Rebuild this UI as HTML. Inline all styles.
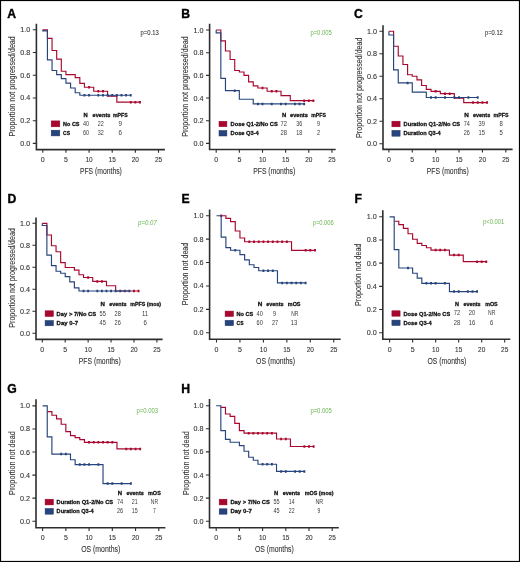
<!DOCTYPE html>
<html><head><meta charset="utf-8"><style>
html,body{margin:0;padding:0;background:#fff;}
svg{display:block;will-change:transform;opacity:0.999;}
text{font-family:"Liberation Sans", sans-serif;}
</style></head><body>
<svg width="520" height="562" viewBox="0 0 520 562">
<rect x="0" y="0" width="520" height="562" fill="#fff"/>
<text x="7.2" y="17.5" font-size="12.2" font-weight="bold" fill="#000" stroke="#000" stroke-width="0.35">A</text>
<path d="M36.40,23.80V149.60H164.90" fill="none" stroke="#2e2e2e" stroke-width="1.6"/>
<path d="M32.80,143.40H36.40M32.80,120.68H36.40M32.80,97.96H36.40M32.80,75.24H36.40M32.80,52.52H36.40M32.80,29.80H36.40M42.80,149.60V152.80M65.94,149.60V152.80M89.08,149.60V152.80M112.22,149.60V152.80M135.36,149.60V152.80M158.50,149.60V152.80" fill="none" stroke="#2e2e2e" stroke-width="1.1"/>
<text x="20.30" y="145.90" font-size="7" font-weight="normal" fill="#333333" stroke="#333333" stroke-width="0.1" textLength="10.00" lengthAdjust="spacingAndGlyphs">0.0</text>
<text x="20.30" y="123.18" font-size="7" font-weight="normal" fill="#333333" stroke="#333333" stroke-width="0.1" textLength="10.00" lengthAdjust="spacingAndGlyphs">0.2</text>
<text x="20.30" y="100.46" font-size="7" font-weight="normal" fill="#333333" stroke="#333333" stroke-width="0.1" textLength="10.00" lengthAdjust="spacingAndGlyphs">0.4</text>
<text x="20.30" y="77.74" font-size="7" font-weight="normal" fill="#333333" stroke="#333333" stroke-width="0.1" textLength="10.00" lengthAdjust="spacingAndGlyphs">0.6</text>
<text x="20.30" y="55.02" font-size="7" font-weight="normal" fill="#333333" stroke="#333333" stroke-width="0.1" textLength="10.00" lengthAdjust="spacingAndGlyphs">0.8</text>
<text x="20.30" y="32.30" font-size="7" font-weight="normal" fill="#333333" stroke="#333333" stroke-width="0.1" textLength="10.00" lengthAdjust="spacingAndGlyphs">1.0</text>
<text x="40.85" y="162.20" font-size="7.9" font-weight="normal" fill="#333333" stroke="#333333" stroke-width="0.1" textLength="3.90" lengthAdjust="spacingAndGlyphs">0</text>
<text x="63.99" y="162.20" font-size="7.9" font-weight="normal" fill="#333333" stroke="#333333" stroke-width="0.1" textLength="3.90" lengthAdjust="spacingAndGlyphs">5</text>
<text x="85.48" y="162.20" font-size="7.9" font-weight="normal" fill="#333333" stroke="#333333" stroke-width="0.1" textLength="7.20" lengthAdjust="spacingAndGlyphs">10</text>
<text x="108.62" y="162.20" font-size="7.9" font-weight="normal" fill="#333333" stroke="#333333" stroke-width="0.1" textLength="7.20" lengthAdjust="spacingAndGlyphs">15</text>
<text x="131.76" y="162.20" font-size="7.9" font-weight="normal" fill="#333333" stroke="#333333" stroke-width="0.1" textLength="7.20" lengthAdjust="spacingAndGlyphs">20</text>
<text x="154.90" y="162.20" font-size="7.9" font-weight="normal" fill="#333333" stroke="#333333" stroke-width="0.1" textLength="7.20" lengthAdjust="spacingAndGlyphs">25</text>
<text x="79.90" y="174.20" font-size="9.4" font-weight="normal" fill="#333333" stroke="#333333" stroke-width="0.1" textLength="42.00" lengthAdjust="spacingAndGlyphs">PFS (months)</text>
<g transform="translate(15.00,86.40) rotate(-90)"><text x="-50.20" y="0.00" font-size="8.8" font-weight="normal" fill="#333333" stroke="#333333" stroke-width="0.1" textLength="100.40" lengthAdjust="spacingAndGlyphs">Proportion not progressed/dead</text></g>
<text x="140.60" y="35.10" font-size="6.4" font-weight="normal" fill="#333333" stroke="#333333" stroke-width="0.08" textLength="18.10" lengthAdjust="spacingAndGlyphs">p=0.13</text>
<path d="M42.80,29.80H47.43V38.32H52.06V50.48H56.68V59.11H61.31V71.26H65.94V74.56H75.20V77.63H79.82V83.42H84.45V87.28H93.71V91.26H107.59V96.14H116.85V102.16H139.99" fill="none" stroke="#a8082f" stroke-width="1.15" stroke-linejoin="miter" stroke-linecap="butt"/>
<path d="M89.08,86.03V88.53M98.34,90.01V92.51M102.96,90.01V92.51M130.73,100.91V103.41M135.36,100.91V103.41M139.99,100.91V103.41" fill="none" stroke="#a8082f" stroke-width="1.9"/>
<path d="M42.80,29.80H42.80V30.94H47.43V59.90H52.06V70.47H56.68V74.56H61.31V78.65H65.94V83.08H70.57V87.96H75.20V92.73H79.82V95.23H130.73" fill="none" stroke="#27457c" stroke-width="1.15" stroke-linejoin="miter" stroke-linecap="butt"/>
<path d="M84.45,93.98V96.48M89.08,93.98V96.48M98.34,93.98V96.48M102.96,93.98V96.48M107.59,93.98V96.48M112.22,93.98V96.48M116.85,93.98V96.48M121.48,93.98V96.48M126.10,93.98V96.48M130.73,93.98V96.48" fill="none" stroke="#27457c" stroke-width="1.9"/>
<rect x="51.2" y="120.9" width="8.60" height="5.90" fill="#a8082f" stroke="#920022" stroke-width="0.5"/>
<rect x="51.2" y="130.2" width="8.60" height="5.70" fill="#27457c" stroke="#1d3669" stroke-width="0.5"/>
<text x="63.10" y="125.90" font-size="6.2" font-weight="bold" fill="#111" stroke="#111" stroke-width="0.28" textLength="16.40" lengthAdjust="spacingAndGlyphs">No CS</text>
<text x="63.10" y="134.90" font-size="6.2" font-weight="bold" fill="#111" stroke="#111" stroke-width="0.28" textLength="6.90" lengthAdjust="spacingAndGlyphs">CS</text>
<text x="83.60" y="116.60" font-size="6.0" font-weight="bold" fill="#111" stroke="#111" stroke-width="0.28" textLength="4.20" lengthAdjust="spacingAndGlyphs">N</text>
<text x="92.60" y="116.60" font-size="6.0" font-weight="bold" fill="#111" stroke="#111" stroke-width="0.28" textLength="17.80" lengthAdjust="spacingAndGlyphs">events</text>
<text x="113.00" y="116.60" font-size="6.0" font-weight="bold" fill="#111" stroke="#111" stroke-width="0.28" textLength="14.70" lengthAdjust="spacingAndGlyphs">mPFS</text>
<text x="82.90" y="125.90" font-size="6.6" font-weight="normal" fill="#3a3a3a" textLength="6.10" lengthAdjust="spacingAndGlyphs">40</text>
<text x="97.80" y="125.90" font-size="6.6" font-weight="normal" fill="#3a3a3a" textLength="6.00" lengthAdjust="spacingAndGlyphs">22</text>
<text x="118.50" y="125.90" font-size="6.6" font-weight="normal" fill="#3a3a3a" textLength="3.50" lengthAdjust="spacingAndGlyphs">9</text>
<text x="82.90" y="134.90" font-size="6.6" font-weight="normal" fill="#3a3a3a" textLength="6.10" lengthAdjust="spacingAndGlyphs">60</text>
<text x="97.80" y="134.90" font-size="6.6" font-weight="normal" fill="#3a3a3a" textLength="6.00" lengthAdjust="spacingAndGlyphs">32</text>
<text x="118.50" y="134.90" font-size="6.6" font-weight="normal" fill="#3a3a3a" textLength="3.50" lengthAdjust="spacingAndGlyphs">6</text>
<text x="181.2" y="17.7" font-size="12.2" font-weight="bold" fill="#000" stroke="#000" stroke-width="0.35">B</text>
<path d="M209.60,23.80V149.50H335.70" fill="none" stroke="#2e2e2e" stroke-width="1.6"/>
<path d="M206.00,143.40H209.60M206.00,120.72H209.60M206.00,98.04H209.60M206.00,75.36H209.60M206.00,52.68H209.60M206.00,30.00H209.60M216.20,149.50V152.70M239.35,149.50V152.70M262.50,149.50V152.70M285.65,149.50V152.70M308.80,149.50V152.70M331.95,149.50V152.70" fill="none" stroke="#2e2e2e" stroke-width="1.1"/>
<text x="193.50" y="145.90" font-size="7" font-weight="normal" fill="#333333" stroke="#333333" stroke-width="0.1" textLength="10.00" lengthAdjust="spacingAndGlyphs">0.0</text>
<text x="193.50" y="123.22" font-size="7" font-weight="normal" fill="#333333" stroke="#333333" stroke-width="0.1" textLength="10.00" lengthAdjust="spacingAndGlyphs">0.2</text>
<text x="193.50" y="100.54" font-size="7" font-weight="normal" fill="#333333" stroke="#333333" stroke-width="0.1" textLength="10.00" lengthAdjust="spacingAndGlyphs">0.4</text>
<text x="193.50" y="77.86" font-size="7" font-weight="normal" fill="#333333" stroke="#333333" stroke-width="0.1" textLength="10.00" lengthAdjust="spacingAndGlyphs">0.6</text>
<text x="193.50" y="55.18" font-size="7" font-weight="normal" fill="#333333" stroke="#333333" stroke-width="0.1" textLength="10.00" lengthAdjust="spacingAndGlyphs">0.8</text>
<text x="193.50" y="32.50" font-size="7" font-weight="normal" fill="#333333" stroke="#333333" stroke-width="0.1" textLength="10.00" lengthAdjust="spacingAndGlyphs">1.0</text>
<text x="214.25" y="162.10" font-size="7.9" font-weight="normal" fill="#333333" stroke="#333333" stroke-width="0.1" textLength="3.90" lengthAdjust="spacingAndGlyphs">0</text>
<text x="237.40" y="162.10" font-size="7.9" font-weight="normal" fill="#333333" stroke="#333333" stroke-width="0.1" textLength="3.90" lengthAdjust="spacingAndGlyphs">5</text>
<text x="258.90" y="162.10" font-size="7.9" font-weight="normal" fill="#333333" stroke="#333333" stroke-width="0.1" textLength="7.20" lengthAdjust="spacingAndGlyphs">10</text>
<text x="282.05" y="162.10" font-size="7.9" font-weight="normal" fill="#333333" stroke="#333333" stroke-width="0.1" textLength="7.20" lengthAdjust="spacingAndGlyphs">15</text>
<text x="305.20" y="162.10" font-size="7.9" font-weight="normal" fill="#333333" stroke="#333333" stroke-width="0.1" textLength="7.20" lengthAdjust="spacingAndGlyphs">20</text>
<text x="328.35" y="162.10" font-size="7.9" font-weight="normal" fill="#333333" stroke="#333333" stroke-width="0.1" textLength="7.20" lengthAdjust="spacingAndGlyphs">25</text>
<text x="253.20" y="174.10" font-size="9.4" font-weight="normal" fill="#333333" stroke="#333333" stroke-width="0.1" textLength="42.10" lengthAdjust="spacingAndGlyphs">PFS (months)</text>
<g transform="translate(188.20,86.60) rotate(-90)"><text x="-50.20" y="0.00" font-size="8.8" font-weight="normal" fill="#333333" stroke="#333333" stroke-width="0.1" textLength="100.40" lengthAdjust="spacingAndGlyphs">Proportion not progressed/dead</text></g>
<text x="310.40" y="34.70" font-size="6.4" font-weight="normal" fill="#68b54e" textLength="21.50" lengthAdjust="spacingAndGlyphs">p=0.005</text>
<path d="M216.20,30.00H220.83V40.89H225.46V50.98H230.09V59.48H234.72V70.48H239.35V71.96H243.98V75.36H248.61V81.94H253.24V85.91H257.87V87.95H267.13V91.24H281.02V95.55H290.28V100.65H313.43" fill="none" stroke="#a8082f" stroke-width="1.15" stroke-linejoin="miter" stroke-linecap="butt"/>
<path d="M262.50,86.70V89.20M271.76,89.99V92.49M276.39,89.99V92.49M304.17,99.40V101.90M308.80,99.40V101.90M313.43,99.40V101.90" fill="none" stroke="#a8082f" stroke-width="1.9"/>
<path d="M216.20,30.00H216.20V32.84H220.83V78.31H225.46V90.67H239.35V99.29H253.24V103.94H304.17" fill="none" stroke="#27457c" stroke-width="1.15" stroke-linejoin="miter" stroke-linecap="butt"/>
<path d="M234.72,89.42V91.92M257.87,102.69V105.19M262.50,102.69V105.19M271.76,102.69V105.19M281.02,102.69V105.19M285.65,102.69V105.19M294.91,102.69V105.19M299.54,102.69V105.19M304.17,102.69V105.19" fill="none" stroke="#27457c" stroke-width="1.9"/>
<rect x="219.0" y="121.3" width="7.90" height="5.40" fill="#a8082f" stroke="#920022" stroke-width="0.5"/>
<rect x="219.0" y="130.5" width="7.90" height="5.50" fill="#27457c" stroke="#1d3669" stroke-width="0.5"/>
<text x="230.60" y="126.10" font-size="6.2" font-weight="bold" fill="#111" stroke="#111" stroke-width="0.28" textLength="47.20" lengthAdjust="spacingAndGlyphs">Dose Q1-2/No CS</text>
<text x="230.60" y="135.10" font-size="6.2" font-weight="bold" fill="#111" stroke="#111" stroke-width="0.28" textLength="28.20" lengthAdjust="spacingAndGlyphs">Dose Q3-4</text>
<text x="281.90" y="116.50" font-size="6.0" font-weight="bold" fill="#111" stroke="#111" stroke-width="0.28" textLength="4.30" lengthAdjust="spacingAndGlyphs">N</text>
<text x="290.00" y="116.50" font-size="6.0" font-weight="bold" fill="#111" stroke="#111" stroke-width="0.28" textLength="17.90" lengthAdjust="spacingAndGlyphs">events</text>
<text x="311.30" y="116.50" font-size="6.0" font-weight="bold" fill="#111" stroke="#111" stroke-width="0.28" textLength="14.60" lengthAdjust="spacingAndGlyphs">mPFS</text>
<text x="280.60" y="125.90" font-size="6.6" font-weight="normal" fill="#3a3a3a" textLength="6.50" lengthAdjust="spacingAndGlyphs">72</text>
<text x="296.30" y="125.90" font-size="6.6" font-weight="normal" fill="#3a3a3a" textLength="6.00" lengthAdjust="spacingAndGlyphs">36</text>
<text x="316.90" y="125.90" font-size="6.6" font-weight="normal" fill="#3a3a3a" textLength="3.10" lengthAdjust="spacingAndGlyphs">9</text>
<text x="280.60" y="135.10" font-size="6.6" font-weight="normal" fill="#3a3a3a" textLength="6.50" lengthAdjust="spacingAndGlyphs">28</text>
<text x="296.30" y="135.10" font-size="6.6" font-weight="normal" fill="#3a3a3a" textLength="6.00" lengthAdjust="spacingAndGlyphs">18</text>
<text x="316.90" y="135.10" font-size="6.6" font-weight="normal" fill="#3a3a3a" textLength="3.10" lengthAdjust="spacingAndGlyphs">2</text>
<text x="354.0" y="17.7" font-size="12.2" font-weight="bold" fill="#000" stroke="#000" stroke-width="0.35">C</text>
<path d="M383.00,25.20V149.40H512.60" fill="none" stroke="#2e2e2e" stroke-width="1.6"/>
<path d="M379.40,143.80H383.00M379.40,121.28H383.00M379.40,98.76H383.00M379.40,76.24H383.00M379.40,53.72H383.00M379.40,31.20H383.00M388.90,149.40V152.60M412.28,149.40V152.60M435.66,149.40V152.60M459.04,149.40V152.60M482.42,149.40V152.60M505.80,149.40V152.60" fill="none" stroke="#2e2e2e" stroke-width="1.1"/>
<text x="366.90" y="146.30" font-size="7" font-weight="normal" fill="#333333" stroke="#333333" stroke-width="0.1" textLength="10.00" lengthAdjust="spacingAndGlyphs">0.0</text>
<text x="366.90" y="123.78" font-size="7" font-weight="normal" fill="#333333" stroke="#333333" stroke-width="0.1" textLength="10.00" lengthAdjust="spacingAndGlyphs">0.2</text>
<text x="366.90" y="101.26" font-size="7" font-weight="normal" fill="#333333" stroke="#333333" stroke-width="0.1" textLength="10.00" lengthAdjust="spacingAndGlyphs">0.4</text>
<text x="366.90" y="78.74" font-size="7" font-weight="normal" fill="#333333" stroke="#333333" stroke-width="0.1" textLength="10.00" lengthAdjust="spacingAndGlyphs">0.6</text>
<text x="366.90" y="56.22" font-size="7" font-weight="normal" fill="#333333" stroke="#333333" stroke-width="0.1" textLength="10.00" lengthAdjust="spacingAndGlyphs">0.8</text>
<text x="366.90" y="33.70" font-size="7" font-weight="normal" fill="#333333" stroke="#333333" stroke-width="0.1" textLength="10.00" lengthAdjust="spacingAndGlyphs">1.0</text>
<text x="386.95" y="162.00" font-size="7.9" font-weight="normal" fill="#333333" stroke="#333333" stroke-width="0.1" textLength="3.90" lengthAdjust="spacingAndGlyphs">0</text>
<text x="410.33" y="162.00" font-size="7.9" font-weight="normal" fill="#333333" stroke="#333333" stroke-width="0.1" textLength="3.90" lengthAdjust="spacingAndGlyphs">5</text>
<text x="432.06" y="162.00" font-size="7.9" font-weight="normal" fill="#333333" stroke="#333333" stroke-width="0.1" textLength="7.20" lengthAdjust="spacingAndGlyphs">10</text>
<text x="455.44" y="162.00" font-size="7.9" font-weight="normal" fill="#333333" stroke="#333333" stroke-width="0.1" textLength="7.20" lengthAdjust="spacingAndGlyphs">15</text>
<text x="478.82" y="162.00" font-size="7.9" font-weight="normal" fill="#333333" stroke="#333333" stroke-width="0.1" textLength="7.20" lengthAdjust="spacingAndGlyphs">20</text>
<text x="502.20" y="162.00" font-size="7.9" font-weight="normal" fill="#333333" stroke="#333333" stroke-width="0.1" textLength="7.20" lengthAdjust="spacingAndGlyphs">25</text>
<text x="426.80" y="174.00" font-size="9.4" font-weight="normal" fill="#333333" stroke="#333333" stroke-width="0.1" textLength="42.00" lengthAdjust="spacingAndGlyphs">PFS (months)</text>
<g transform="translate(362.00,87.70) rotate(-90)"><text x="-50.20" y="0.00" font-size="8.8" font-weight="normal" fill="#333333" stroke="#333333" stroke-width="0.1" textLength="100.40" lengthAdjust="spacingAndGlyphs">Proportion not progressed/dead</text></g>
<text x="485.00" y="34.70" font-size="6.4" font-weight="normal" fill="#333333" stroke="#333333" stroke-width="0.08" textLength="17.80" lengthAdjust="spacingAndGlyphs">p=0.12</text>
<path d="M388.90,31.20H393.58V46.29H398.25V55.97H402.93V64.53H407.60V74.78H412.28V76.24H416.96V79.84H421.63V85.47H426.31V89.30H430.98V91.33H440.34V93.69H454.36V98.20H463.72V102.59H487.10" fill="none" stroke="#a8082f" stroke-width="1.15" stroke-linejoin="miter" stroke-linecap="butt"/>
<path d="M435.66,90.08V92.58M445.01,92.44V94.94M449.69,92.44V94.94M473.07,101.34V103.84M477.74,101.34V103.84M482.42,101.34V103.84M487.10,101.34V103.84" fill="none" stroke="#a8082f" stroke-width="1.9"/>
<path d="M388.90,31.20H388.90V35.03H393.58V69.82H398.25V82.88H412.28V92.12H426.31V97.52H477.74" fill="none" stroke="#27457c" stroke-width="1.15" stroke-linejoin="miter" stroke-linecap="butt"/>
<path d="M407.60,81.63V84.13M430.98,96.27V98.77M435.66,96.27V98.77M445.01,96.27V98.77M454.36,96.27V98.77M459.04,96.27V98.77M468.39,96.27V98.77M477.74,96.27V98.77" fill="none" stroke="#27457c" stroke-width="1.9"/>
<rect x="391.9" y="121.2" width="8.20" height="5.60" fill="#a8082f" stroke="#920022" stroke-width="0.5"/>
<rect x="391.9" y="130.4" width="8.20" height="5.80" fill="#27457c" stroke="#1d3669" stroke-width="0.5"/>
<text x="403.50" y="126.10" font-size="6.2" font-weight="bold" fill="#111" stroke="#111" stroke-width="0.28" textLength="56.60" lengthAdjust="spacingAndGlyphs">Duration Q1-2/No CS</text>
<text x="403.50" y="135.10" font-size="6.2" font-weight="bold" fill="#111" stroke="#111" stroke-width="0.28" textLength="37.20" lengthAdjust="spacingAndGlyphs">Duration Q3-4</text>
<text x="464.20" y="116.50" font-size="6.0" font-weight="bold" fill="#111" stroke="#111" stroke-width="0.28" textLength="4.60" lengthAdjust="spacingAndGlyphs">N</text>
<text x="472.90" y="116.50" font-size="6.0" font-weight="bold" fill="#111" stroke="#111" stroke-width="0.28" textLength="17.30" lengthAdjust="spacingAndGlyphs">events</text>
<text x="493.60" y="116.50" font-size="6.0" font-weight="bold" fill="#111" stroke="#111" stroke-width="0.28" textLength="15.00" lengthAdjust="spacingAndGlyphs">mPFS</text>
<text x="463.70" y="125.80" font-size="6.6" font-weight="normal" fill="#3a3a3a" textLength="6.10" lengthAdjust="spacingAndGlyphs">74</text>
<text x="478.60" y="125.80" font-size="6.6" font-weight="normal" fill="#3a3a3a" textLength="6.40" lengthAdjust="spacingAndGlyphs">39</text>
<text x="499.60" y="125.80" font-size="6.6" font-weight="normal" fill="#3a3a3a" textLength="3.30" lengthAdjust="spacingAndGlyphs">8</text>
<text x="463.70" y="134.80" font-size="6.6" font-weight="normal" fill="#3a3a3a" textLength="6.10" lengthAdjust="spacingAndGlyphs">26</text>
<text x="478.60" y="134.80" font-size="6.6" font-weight="normal" fill="#3a3a3a" textLength="6.40" lengthAdjust="spacingAndGlyphs">15</text>
<text x="499.60" y="134.80" font-size="6.6" font-weight="normal" fill="#3a3a3a" textLength="3.30" lengthAdjust="spacingAndGlyphs">5</text>
<text x="7.6" y="202.9" font-size="12.2" font-weight="bold" fill="#000" stroke="#000" stroke-width="0.35">D</text>
<path d="M36.00,217.50V339.40H162.60" fill="none" stroke="#2e2e2e" stroke-width="1.6"/>
<path d="M32.40,333.30H36.00M32.40,311.30H36.00M32.40,289.30H36.00M32.40,267.30H36.00M32.40,245.30H36.00M32.40,223.30H36.00M42.30,339.40V342.60M65.22,339.40V342.60M88.14,339.40V342.60M111.06,339.40V342.60M133.98,339.40V342.60M156.90,339.40V342.60" fill="none" stroke="#2e2e2e" stroke-width="1.1"/>
<text x="19.90" y="335.80" font-size="7" font-weight="normal" fill="#333333" stroke="#333333" stroke-width="0.1" textLength="10.00" lengthAdjust="spacingAndGlyphs">0.0</text>
<text x="19.90" y="313.80" font-size="7" font-weight="normal" fill="#333333" stroke="#333333" stroke-width="0.1" textLength="10.00" lengthAdjust="spacingAndGlyphs">0.2</text>
<text x="19.90" y="291.80" font-size="7" font-weight="normal" fill="#333333" stroke="#333333" stroke-width="0.1" textLength="10.00" lengthAdjust="spacingAndGlyphs">0.4</text>
<text x="19.90" y="269.80" font-size="7" font-weight="normal" fill="#333333" stroke="#333333" stroke-width="0.1" textLength="10.00" lengthAdjust="spacingAndGlyphs">0.6</text>
<text x="19.90" y="247.80" font-size="7" font-weight="normal" fill="#333333" stroke="#333333" stroke-width="0.1" textLength="10.00" lengthAdjust="spacingAndGlyphs">0.8</text>
<text x="19.90" y="225.80" font-size="7" font-weight="normal" fill="#333333" stroke="#333333" stroke-width="0.1" textLength="10.00" lengthAdjust="spacingAndGlyphs">1.0</text>
<text x="40.35" y="352.00" font-size="7.9" font-weight="normal" fill="#333333" stroke="#333333" stroke-width="0.1" textLength="3.90" lengthAdjust="spacingAndGlyphs">0</text>
<text x="63.27" y="352.00" font-size="7.9" font-weight="normal" fill="#333333" stroke="#333333" stroke-width="0.1" textLength="3.90" lengthAdjust="spacingAndGlyphs">5</text>
<text x="84.54" y="352.00" font-size="7.9" font-weight="normal" fill="#333333" stroke="#333333" stroke-width="0.1" textLength="7.20" lengthAdjust="spacingAndGlyphs">10</text>
<text x="107.46" y="352.00" font-size="7.9" font-weight="normal" fill="#333333" stroke="#333333" stroke-width="0.1" textLength="7.20" lengthAdjust="spacingAndGlyphs">15</text>
<text x="130.38" y="352.00" font-size="7.9" font-weight="normal" fill="#333333" stroke="#333333" stroke-width="0.1" textLength="7.20" lengthAdjust="spacingAndGlyphs">20</text>
<text x="153.30" y="352.00" font-size="7.9" font-weight="normal" fill="#333333" stroke="#333333" stroke-width="0.1" textLength="7.20" lengthAdjust="spacingAndGlyphs">25</text>
<text x="78.80" y="364.00" font-size="9.4" font-weight="normal" fill="#333333" stroke="#333333" stroke-width="0.1" textLength="42.00" lengthAdjust="spacingAndGlyphs">PFS (months)</text>
<g transform="translate(15.30,277.90) rotate(-90)"><text x="-49.75" y="0.00" font-size="8.8" font-weight="normal" fill="#333333" stroke="#333333" stroke-width="0.1" textLength="99.50" lengthAdjust="spacingAndGlyphs">Proportion not progressed/dead</text></g>
<text x="138.10" y="224.60" font-size="6.4" font-weight="normal" fill="#68b54e" font-style="italic" textLength="18.80" lengthAdjust="spacingAndGlyphs">p=0.07</text>
<path d="M42.30,223.30H46.88V234.96H51.47V245.74H56.05V251.79H60.64V262.68H65.22V267.52H74.39V270.16H78.97V274.78H83.56V277.53H92.72V281.38H106.48V285.78H115.64V290.95H138.56" fill="none" stroke="#a8082f" stroke-width="1.15" stroke-linejoin="miter" stroke-linecap="butt"/>
<path d="M88.14,276.28V278.78M97.31,280.13V282.63M101.89,280.13V282.63M133.98,289.70V292.20M138.56,289.70V292.20" fill="none" stroke="#a8082f" stroke-width="1.9"/>
<path d="M42.30,223.30H42.30V225.50H46.88V255.09H51.47V265.65H56.05V271.26H60.64V273.24H65.22V276.65H69.80V281.93H74.39V287.87H78.97V290.95H129.40" fill="none" stroke="#27457c" stroke-width="1.15" stroke-linejoin="miter" stroke-linecap="butt"/>
<path d="M83.56,289.70V292.20M88.14,289.70V292.20M97.31,289.70V292.20M101.89,289.70V292.20M106.48,289.70V292.20M111.06,289.70V292.20M115.64,289.70V292.20M120.23,289.70V292.20M124.81,289.70V292.20M129.40,289.70V292.20" fill="none" stroke="#27457c" stroke-width="1.9"/>
<rect x="45.1" y="310.8" width="8.30" height="5.70" fill="#a8082f" stroke="#920022" stroke-width="0.5"/>
<rect x="45.1" y="320.5" width="8.30" height="5.30" fill="#27457c" stroke="#1d3669" stroke-width="0.5"/>
<text x="56.60" y="315.70" font-size="6.2" font-weight="bold" fill="#111" stroke="#111" stroke-width="0.28" textLength="39.60" lengthAdjust="spacingAndGlyphs">Day &gt; 7/No CS</text>
<text x="56.60" y="324.60" font-size="6.2" font-weight="bold" fill="#111" stroke="#111" stroke-width="0.28" textLength="21.40" lengthAdjust="spacingAndGlyphs">Day 0-7</text>
<text x="100.50" y="306.10" font-size="6.0" font-weight="bold" fill="#111" stroke="#111" stroke-width="0.28" textLength="4.40" lengthAdjust="spacingAndGlyphs">N</text>
<text x="109.20" y="306.10" font-size="6.0" font-weight="bold" fill="#111" stroke="#111" stroke-width="0.28" textLength="17.30" lengthAdjust="spacingAndGlyphs">events</text>
<text x="130.30" y="306.10" font-size="6.0" font-weight="bold" fill="#111" stroke="#111" stroke-width="0.28" textLength="30.80" lengthAdjust="spacingAndGlyphs">mPFS (mos)</text>
<text x="99.50" y="315.50" font-size="6.6" font-weight="normal" fill="#3a3a3a" textLength="6.30" lengthAdjust="spacingAndGlyphs">55</text>
<text x="114.60" y="315.50" font-size="6.6" font-weight="normal" fill="#3a3a3a" textLength="6.20" lengthAdjust="spacingAndGlyphs">28</text>
<text x="142.00" y="315.50" font-size="6.6" font-weight="normal" fill="#3a3a3a" textLength="6.20" lengthAdjust="spacingAndGlyphs">11</text>
<text x="99.50" y="324.50" font-size="6.6" font-weight="normal" fill="#3a3a3a" textLength="6.30" lengthAdjust="spacingAndGlyphs">45</text>
<text x="114.60" y="324.50" font-size="6.6" font-weight="normal" fill="#3a3a3a" textLength="6.20" lengthAdjust="spacingAndGlyphs">26</text>
<text x="143.50" y="324.50" font-size="6.6" font-weight="normal" fill="#3a3a3a" textLength="3.40" lengthAdjust="spacingAndGlyphs">6</text>
<text x="181.4" y="202.7" font-size="12.2" font-weight="bold" fill="#000" stroke="#000" stroke-width="0.35">E</text>
<path d="M209.60,209.40V339.20H340.70" fill="none" stroke="#2e2e2e" stroke-width="1.6"/>
<path d="M206.00,332.80H209.60M206.00,309.38H209.60M206.00,285.96H209.60M206.00,262.54H209.60M206.00,239.12H209.60M206.00,215.70H209.60M216.50,339.20V342.40M239.95,339.20V342.40M263.40,339.20V342.40M286.85,339.20V342.40M310.30,339.20V342.40M333.75,339.20V342.40" fill="none" stroke="#2e2e2e" stroke-width="1.1"/>
<text x="193.50" y="335.30" font-size="7" font-weight="normal" fill="#333333" stroke="#333333" stroke-width="0.1" textLength="10.00" lengthAdjust="spacingAndGlyphs">0.0</text>
<text x="193.50" y="311.88" font-size="7" font-weight="normal" fill="#333333" stroke="#333333" stroke-width="0.1" textLength="10.00" lengthAdjust="spacingAndGlyphs">0.2</text>
<text x="193.50" y="288.46" font-size="7" font-weight="normal" fill="#333333" stroke="#333333" stroke-width="0.1" textLength="10.00" lengthAdjust="spacingAndGlyphs">0.4</text>
<text x="193.50" y="265.04" font-size="7" font-weight="normal" fill="#333333" stroke="#333333" stroke-width="0.1" textLength="10.00" lengthAdjust="spacingAndGlyphs">0.6</text>
<text x="193.50" y="241.62" font-size="7" font-weight="normal" fill="#333333" stroke="#333333" stroke-width="0.1" textLength="10.00" lengthAdjust="spacingAndGlyphs">0.8</text>
<text x="193.50" y="218.20" font-size="7" font-weight="normal" fill="#333333" stroke="#333333" stroke-width="0.1" textLength="10.00" lengthAdjust="spacingAndGlyphs">1.0</text>
<text x="214.55" y="351.80" font-size="7.9" font-weight="normal" fill="#333333" stroke="#333333" stroke-width="0.1" textLength="3.90" lengthAdjust="spacingAndGlyphs">0</text>
<text x="238.00" y="351.80" font-size="7.9" font-weight="normal" fill="#333333" stroke="#333333" stroke-width="0.1" textLength="3.90" lengthAdjust="spacingAndGlyphs">5</text>
<text x="259.80" y="351.80" font-size="7.9" font-weight="normal" fill="#333333" stroke="#333333" stroke-width="0.1" textLength="7.20" lengthAdjust="spacingAndGlyphs">10</text>
<text x="283.25" y="351.80" font-size="7.9" font-weight="normal" fill="#333333" stroke="#333333" stroke-width="0.1" textLength="7.20" lengthAdjust="spacingAndGlyphs">15</text>
<text x="306.70" y="351.80" font-size="7.9" font-weight="normal" fill="#333333" stroke="#333333" stroke-width="0.1" textLength="7.20" lengthAdjust="spacingAndGlyphs">20</text>
<text x="330.15" y="351.80" font-size="7.9" font-weight="normal" fill="#333333" stroke="#333333" stroke-width="0.1" textLength="7.20" lengthAdjust="spacingAndGlyphs">25</text>
<text x="256.10" y="363.80" font-size="9.4" font-weight="normal" fill="#333333" stroke="#333333" stroke-width="0.1" textLength="38.90" lengthAdjust="spacingAndGlyphs">OS (months)</text>
<g transform="translate(188.40,274.00) rotate(-90)"><text x="-31.30" y="0.00" font-size="8.8" font-weight="normal" fill="#333333" stroke="#333333" stroke-width="0.1" textLength="62.60" lengthAdjust="spacingAndGlyphs">Proportion not dead</text></g>
<text x="312.70" y="224.70" font-size="6.4" font-weight="normal" fill="#68b54e" textLength="21.10" lengthAdjust="spacingAndGlyphs">p=0.006</text>
<path d="M221.19,215.70H225.88V218.39H230.57V221.56H235.26V231.04H239.95V237.95H244.64V241.70H291.54V250.36H314.99" fill="none" stroke="#a8082f" stroke-width="1.15" stroke-linejoin="miter" stroke-linecap="butt"/>
<path d="M221.19,214.45V216.95M249.33,240.45V242.95M254.02,240.45V242.95M258.71,240.45V242.95M263.40,240.45V242.95M268.09,240.45V242.95M272.78,240.45V242.95M277.47,240.45V242.95M282.16,240.45V242.95M286.85,240.45V242.95M305.61,249.11V251.61M310.30,249.11V251.61M314.99,249.11V251.61" fill="none" stroke="#a8082f" stroke-width="1.9"/>
<path d="M216.50,215.70H221.19V237.13H225.88V247.55H230.57V250.24H239.95V254.58H244.64V259.85H249.33V264.76H254.02V267.46H258.71V270.74H277.47V282.92H305.61" fill="none" stroke="#27457c" stroke-width="1.15" stroke-linejoin="miter" stroke-linecap="butt"/>
<path d="M235.26,248.99V251.49M263.40,269.49V271.99M268.09,269.49V271.99M272.78,269.49V271.99M282.16,281.67V284.17M286.85,281.67V284.17M291.54,281.67V284.17M296.23,281.67V284.17M300.92,281.67V284.17M305.61,281.67V284.17" fill="none" stroke="#27457c" stroke-width="1.9"/>
<rect x="225.1" y="311.1" width="8.40" height="5.40" fill="#a8082f" stroke="#920022" stroke-width="0.5"/>
<rect x="225.1" y="320.3" width="8.40" height="5.40" fill="#27457c" stroke="#1d3669" stroke-width="0.5"/>
<text x="236.60" y="315.70" font-size="6.2" font-weight="bold" fill="#111" stroke="#111" stroke-width="0.28" textLength="16.60" lengthAdjust="spacingAndGlyphs">No CS</text>
<text x="236.60" y="324.50" font-size="6.2" font-weight="bold" fill="#111" stroke="#111" stroke-width="0.28" textLength="6.90" lengthAdjust="spacingAndGlyphs">CS</text>
<text x="257.70" y="306.20" font-size="6.0" font-weight="bold" fill="#111" stroke="#111" stroke-width="0.28" textLength="4.60" lengthAdjust="spacingAndGlyphs">N</text>
<text x="266.30" y="306.20" font-size="6.0" font-weight="bold" fill="#111" stroke="#111" stroke-width="0.28" textLength="17.20" lengthAdjust="spacingAndGlyphs">events</text>
<text x="287.80" y="306.20" font-size="6.0" font-weight="bold" fill="#111" stroke="#111" stroke-width="0.28" textLength="12.70" lengthAdjust="spacingAndGlyphs">mOS</text>
<text x="256.60" y="315.50" font-size="6.6" font-weight="normal" fill="#3a3a3a" textLength="6.20" lengthAdjust="spacingAndGlyphs">40</text>
<text x="273.10" y="315.50" font-size="6.6" font-weight="normal" fill="#3a3a3a" textLength="3.10" lengthAdjust="spacingAndGlyphs">9</text>
<text x="291.20" y="315.50" font-size="6.6" font-weight="normal" fill="#3a3a3a" textLength="7.00" lengthAdjust="spacingAndGlyphs">NR</text>
<text x="256.60" y="324.60" font-size="6.6" font-weight="normal" fill="#3a3a3a" textLength="6.20" lengthAdjust="spacingAndGlyphs">60</text>
<text x="271.90" y="324.60" font-size="6.6" font-weight="normal" fill="#3a3a3a" textLength="6.20" lengthAdjust="spacingAndGlyphs">27</text>
<text x="290.70" y="324.60" font-size="6.6" font-weight="normal" fill="#3a3a3a" textLength="6.60" lengthAdjust="spacingAndGlyphs">13</text>
<text x="354.6" y="202.7" font-size="12.2" font-weight="bold" fill="#000" stroke="#000" stroke-width="0.35">F</text>
<path d="M382.80,210.20V339.20H510.30" fill="none" stroke="#2e2e2e" stroke-width="1.6"/>
<path d="M379.20,332.70H382.80M379.20,309.52H382.80M379.20,286.34H382.80M379.20,263.16H382.80M379.20,239.98H382.80M379.20,216.80H382.80M389.60,339.20V342.40M412.62,339.20V342.40M435.64,339.20V342.40M458.66,339.20V342.40M481.68,339.20V342.40M504.70,339.20V342.40" fill="none" stroke="#2e2e2e" stroke-width="1.1"/>
<text x="366.70" y="335.20" font-size="7" font-weight="normal" fill="#333333" stroke="#333333" stroke-width="0.1" textLength="10.00" lengthAdjust="spacingAndGlyphs">0.0</text>
<text x="366.70" y="312.02" font-size="7" font-weight="normal" fill="#333333" stroke="#333333" stroke-width="0.1" textLength="10.00" lengthAdjust="spacingAndGlyphs">0.2</text>
<text x="366.70" y="288.84" font-size="7" font-weight="normal" fill="#333333" stroke="#333333" stroke-width="0.1" textLength="10.00" lengthAdjust="spacingAndGlyphs">0.4</text>
<text x="366.70" y="265.66" font-size="7" font-weight="normal" fill="#333333" stroke="#333333" stroke-width="0.1" textLength="10.00" lengthAdjust="spacingAndGlyphs">0.6</text>
<text x="366.70" y="242.48" font-size="7" font-weight="normal" fill="#333333" stroke="#333333" stroke-width="0.1" textLength="10.00" lengthAdjust="spacingAndGlyphs">0.8</text>
<text x="366.70" y="219.30" font-size="7" font-weight="normal" fill="#333333" stroke="#333333" stroke-width="0.1" textLength="10.00" lengthAdjust="spacingAndGlyphs">1.0</text>
<text x="387.65" y="351.80" font-size="7.9" font-weight="normal" fill="#333333" stroke="#333333" stroke-width="0.1" textLength="3.90" lengthAdjust="spacingAndGlyphs">0</text>
<text x="410.67" y="351.80" font-size="7.9" font-weight="normal" fill="#333333" stroke="#333333" stroke-width="0.1" textLength="3.90" lengthAdjust="spacingAndGlyphs">5</text>
<text x="432.04" y="351.80" font-size="7.9" font-weight="normal" fill="#333333" stroke="#333333" stroke-width="0.1" textLength="7.20" lengthAdjust="spacingAndGlyphs">10</text>
<text x="455.06" y="351.80" font-size="7.9" font-weight="normal" fill="#333333" stroke="#333333" stroke-width="0.1" textLength="7.20" lengthAdjust="spacingAndGlyphs">15</text>
<text x="478.08" y="351.80" font-size="7.9" font-weight="normal" fill="#333333" stroke="#333333" stroke-width="0.1" textLength="7.20" lengthAdjust="spacingAndGlyphs">20</text>
<text x="501.10" y="351.80" font-size="7.9" font-weight="normal" fill="#333333" stroke="#333333" stroke-width="0.1" textLength="7.20" lengthAdjust="spacingAndGlyphs">25</text>
<text x="427.50" y="363.80" font-size="9.4" font-weight="normal" fill="#333333" stroke="#333333" stroke-width="0.1" textLength="38.90" lengthAdjust="spacingAndGlyphs">OS (months)</text>
<g transform="translate(361.20,274.80) rotate(-90)"><text x="-31.10" y="0.00" font-size="8.8" font-weight="normal" fill="#333333" stroke="#333333" stroke-width="0.1" textLength="62.20" lengthAdjust="spacingAndGlyphs">Proportion not dead</text></g>
<text x="483.10" y="224.20" font-size="6.4" font-weight="normal" fill="#68b54e" textLength="21.10" lengthAdjust="spacingAndGlyphs">p&lt;0.001</text>
<path d="M394.20,221.20H398.81V224.68H403.41V228.39H408.02V233.72H412.62V239.28H417.22V243.34H421.83V245.54H426.43V247.75H431.04V250.06H449.45V255.05H463.26V261.65H486.28" fill="none" stroke="#a8082f" stroke-width="1.15" stroke-linejoin="miter" stroke-linecap="butt"/>
<path d="M435.64,248.81V251.31M440.24,248.81V251.31M444.85,248.81V251.31M454.06,253.80V256.30M458.66,253.80V256.30M477.08,260.40V262.90M481.68,260.40V262.90M486.28,260.40V262.90" fill="none" stroke="#a8082f" stroke-width="1.9"/>
<path d="M389.60,216.80H394.20V249.60H398.81V268.03H412.62V273.24H417.22V278.11H421.83V283.33H449.45V291.56H477.08" fill="none" stroke="#27457c" stroke-width="1.15" stroke-linejoin="miter" stroke-linecap="butt"/>
<path d="M408.02,266.78V269.28M426.43,282.08V284.58M431.04,282.08V284.58M435.64,282.08V284.58M444.85,282.08V284.58M454.06,290.31V292.81M458.66,290.31V292.81M467.87,290.31V292.81M472.47,290.31V292.81M477.08,290.31V292.81" fill="none" stroke="#27457c" stroke-width="1.9"/>
<rect x="391.9" y="310.8" width="8.20" height="5.40" fill="#a8082f" stroke="#920022" stroke-width="0.5"/>
<rect x="391.9" y="320.1" width="8.20" height="5.40" fill="#27457c" stroke="#1d3669" stroke-width="0.5"/>
<text x="403.50" y="315.50" font-size="6.2" font-weight="bold" fill="#111" stroke="#111" stroke-width="0.28" textLength="46.70" lengthAdjust="spacingAndGlyphs">Dose Q1-2/No CS</text>
<text x="403.50" y="324.50" font-size="6.2" font-weight="bold" fill="#111" stroke="#111" stroke-width="0.28" textLength="28.10" lengthAdjust="spacingAndGlyphs">Dose Q3-4</text>
<text x="454.90" y="305.80" font-size="6.0" font-weight="bold" fill="#111" stroke="#111" stroke-width="0.28" textLength="4.00" lengthAdjust="spacingAndGlyphs">N</text>
<text x="463.40" y="305.80" font-size="6.0" font-weight="bold" fill="#111" stroke="#111" stroke-width="0.28" textLength="17.10" lengthAdjust="spacingAndGlyphs">events</text>
<text x="485.20" y="305.80" font-size="6.0" font-weight="bold" fill="#111" stroke="#111" stroke-width="0.28" textLength="12.50" lengthAdjust="spacingAndGlyphs">mOS</text>
<text x="453.80" y="315.40" font-size="6.6" font-weight="normal" fill="#3a3a3a" textLength="6.40" lengthAdjust="spacingAndGlyphs">72</text>
<text x="468.80" y="315.40" font-size="6.6" font-weight="normal" fill="#3a3a3a" textLength="6.40" lengthAdjust="spacingAndGlyphs">20</text>
<text x="488.00" y="315.40" font-size="6.6" font-weight="normal" fill="#3a3a3a" textLength="7.30" lengthAdjust="spacingAndGlyphs">NR</text>
<text x="453.80" y="324.50" font-size="6.6" font-weight="normal" fill="#3a3a3a" textLength="6.40" lengthAdjust="spacingAndGlyphs">28</text>
<text x="468.80" y="324.50" font-size="6.6" font-weight="normal" fill="#3a3a3a" textLength="6.40" lengthAdjust="spacingAndGlyphs">16</text>
<text x="490.00" y="324.50" font-size="6.6" font-weight="normal" fill="#3a3a3a" textLength="3.20" lengthAdjust="spacingAndGlyphs">6</text>
<text x="7.2" y="392.5" font-size="12.2" font-weight="bold" fill="#000" stroke="#000" stroke-width="0.35">G</text>
<path d="M36.00,399.20V527.80H165.40" fill="none" stroke="#2e2e2e" stroke-width="1.6"/>
<path d="M32.40,521.20H36.00M32.40,498.14H36.00M32.40,475.08H36.00M32.40,452.02H36.00M32.40,428.96H36.00M32.40,405.90H36.00M42.60,527.80V531.00M65.84,527.80V531.00M89.08,527.80V531.00M112.32,527.80V531.00M135.56,527.80V531.00M158.80,527.80V531.00" fill="none" stroke="#2e2e2e" stroke-width="1.1"/>
<text x="19.90" y="523.70" font-size="7" font-weight="normal" fill="#333333" stroke="#333333" stroke-width="0.1" textLength="10.00" lengthAdjust="spacingAndGlyphs">0.0</text>
<text x="19.90" y="500.64" font-size="7" font-weight="normal" fill="#333333" stroke="#333333" stroke-width="0.1" textLength="10.00" lengthAdjust="spacingAndGlyphs">0.2</text>
<text x="19.90" y="477.58" font-size="7" font-weight="normal" fill="#333333" stroke="#333333" stroke-width="0.1" textLength="10.00" lengthAdjust="spacingAndGlyphs">0.4</text>
<text x="19.90" y="454.52" font-size="7" font-weight="normal" fill="#333333" stroke="#333333" stroke-width="0.1" textLength="10.00" lengthAdjust="spacingAndGlyphs">0.6</text>
<text x="19.90" y="431.46" font-size="7" font-weight="normal" fill="#333333" stroke="#333333" stroke-width="0.1" textLength="10.00" lengthAdjust="spacingAndGlyphs">0.8</text>
<text x="19.90" y="408.40" font-size="7" font-weight="normal" fill="#333333" stroke="#333333" stroke-width="0.1" textLength="10.00" lengthAdjust="spacingAndGlyphs">1.0</text>
<text x="40.65" y="540.40" font-size="7.9" font-weight="normal" fill="#333333" stroke="#333333" stroke-width="0.1" textLength="3.90" lengthAdjust="spacingAndGlyphs">0</text>
<text x="63.89" y="540.40" font-size="7.9" font-weight="normal" fill="#333333" stroke="#333333" stroke-width="0.1" textLength="3.90" lengthAdjust="spacingAndGlyphs">5</text>
<text x="85.48" y="540.40" font-size="7.9" font-weight="normal" fill="#333333" stroke="#333333" stroke-width="0.1" textLength="7.20" lengthAdjust="spacingAndGlyphs">10</text>
<text x="108.72" y="540.40" font-size="7.9" font-weight="normal" fill="#333333" stroke="#333333" stroke-width="0.1" textLength="7.20" lengthAdjust="spacingAndGlyphs">15</text>
<text x="131.96" y="540.40" font-size="7.9" font-weight="normal" fill="#333333" stroke="#333333" stroke-width="0.1" textLength="7.20" lengthAdjust="spacingAndGlyphs">20</text>
<text x="155.20" y="540.40" font-size="7.9" font-weight="normal" fill="#333333" stroke="#333333" stroke-width="0.1" textLength="7.20" lengthAdjust="spacingAndGlyphs">25</text>
<text x="81.20" y="552.40" font-size="9.4" font-weight="normal" fill="#333333" stroke="#333333" stroke-width="0.1" textLength="39.10" lengthAdjust="spacingAndGlyphs">OS (months)</text>
<g transform="translate(15.30,463.10) rotate(-90)"><text x="-31.80" y="0.00" font-size="8.8" font-weight="normal" fill="#333333" stroke="#333333" stroke-width="0.1" textLength="63.60" lengthAdjust="spacingAndGlyphs">Proportion not dead</text></g>
<text x="136.50" y="412.70" font-size="6.4" font-weight="normal" fill="#68b54e" textLength="21.60" lengthAdjust="spacingAndGlyphs">p=0.003</text>
<path d="M47.25,411.66H51.90V415.24H56.54V418.93H61.19V424.23H65.84V431.61H70.49V435.65H75.14V437.61H79.78V439.68H84.43V442.33H116.97V448.91H140.21" fill="none" stroke="#a8082f" stroke-width="1.15" stroke-linejoin="miter" stroke-linecap="butt"/>
<path d="M89.08,441.08V443.58M93.73,441.08V443.58M98.38,441.08V443.58M103.02,441.08V443.58M107.67,441.08V443.58M112.32,441.08V443.58M126.26,447.66V450.16M130.91,447.66V450.16M135.56,447.66V450.16M140.21,447.66V450.16" fill="none" stroke="#a8082f" stroke-width="1.9"/>
<path d="M42.60,405.90H47.25V436.80H51.90V454.10H70.49V459.75H75.14V464.59H103.02V483.61H130.91" fill="none" stroke="#27457c" stroke-width="1.15" stroke-linejoin="miter" stroke-linecap="butt"/>
<path d="M61.19,452.85V455.35M65.84,452.85V455.35M79.78,463.34V465.84M84.43,463.34V465.84M89.08,463.34V465.84M98.38,463.34V465.84M107.67,482.36V484.86M112.32,482.36V484.86M121.62,482.36V484.86M130.91,482.36V484.86" fill="none" stroke="#27457c" stroke-width="1.9"/>
<rect x="45.1" y="499.2" width="8.30" height="5.70" fill="#a8082f" stroke="#920022" stroke-width="0.5"/>
<rect x="45.1" y="508.5" width="8.30" height="5.70" fill="#27457c" stroke="#1d3669" stroke-width="0.5"/>
<text x="56.60" y="503.80" font-size="6.2" font-weight="bold" fill="#111" stroke="#111" stroke-width="0.28" textLength="56.50" lengthAdjust="spacingAndGlyphs">Duration Q1-2/No CS</text>
<text x="56.60" y="512.80" font-size="6.2" font-weight="bold" fill="#111" stroke="#111" stroke-width="0.28" textLength="37.10" lengthAdjust="spacingAndGlyphs">Duration Q3-4</text>
<text x="117.70" y="494.60" font-size="6.0" font-weight="bold" fill="#111" stroke="#111" stroke-width="0.28" textLength="4.30" lengthAdjust="spacingAndGlyphs">N</text>
<text x="126.50" y="494.60" font-size="6.0" font-weight="bold" fill="#111" stroke="#111" stroke-width="0.28" textLength="17.30" lengthAdjust="spacingAndGlyphs">events</text>
<text x="148.00" y="494.60" font-size="6.0" font-weight="bold" fill="#111" stroke="#111" stroke-width="0.28" textLength="12.80" lengthAdjust="spacingAndGlyphs">mOS</text>
<text x="116.90" y="503.80" font-size="6.6" font-weight="normal" fill="#3a3a3a" textLength="6.20" lengthAdjust="spacingAndGlyphs">74</text>
<text x="131.80" y="503.80" font-size="6.6" font-weight="normal" fill="#3a3a3a" textLength="5.90" lengthAdjust="spacingAndGlyphs">21</text>
<text x="150.80" y="503.80" font-size="6.6" font-weight="normal" fill="#3a3a3a" textLength="7.20" lengthAdjust="spacingAndGlyphs">NR</text>
<text x="116.90" y="512.80" font-size="6.6" font-weight="normal" fill="#3a3a3a" textLength="6.20" lengthAdjust="spacingAndGlyphs">26</text>
<text x="131.80" y="512.80" font-size="6.6" font-weight="normal" fill="#3a3a3a" textLength="5.90" lengthAdjust="spacingAndGlyphs">15</text>
<text x="153.00" y="512.80" font-size="6.6" font-weight="normal" fill="#3a3a3a" textLength="2.80" lengthAdjust="spacingAndGlyphs">7</text>
<text x="181.2" y="392.5" font-size="12.2" font-weight="bold" fill="#000" stroke="#000" stroke-width="0.35">H</text>
<path d="M209.50,399.00V527.80H338.80" fill="none" stroke="#2e2e2e" stroke-width="1.6"/>
<path d="M205.90,521.20H209.50M205.90,498.10H209.50M205.90,475.00H209.50M205.90,451.90H209.50M205.90,428.80H209.50M205.90,405.70H209.50M216.20,527.80V531.00M239.40,527.80V531.00M262.60,527.80V531.00M285.80,527.80V531.00M309.00,527.80V531.00M332.20,527.80V531.00" fill="none" stroke="#2e2e2e" stroke-width="1.1"/>
<text x="193.40" y="523.70" font-size="7" font-weight="normal" fill="#333333" stroke="#333333" stroke-width="0.1" textLength="10.00" lengthAdjust="spacingAndGlyphs">0.0</text>
<text x="193.40" y="500.60" font-size="7" font-weight="normal" fill="#333333" stroke="#333333" stroke-width="0.1" textLength="10.00" lengthAdjust="spacingAndGlyphs">0.2</text>
<text x="193.40" y="477.50" font-size="7" font-weight="normal" fill="#333333" stroke="#333333" stroke-width="0.1" textLength="10.00" lengthAdjust="spacingAndGlyphs">0.4</text>
<text x="193.40" y="454.40" font-size="7" font-weight="normal" fill="#333333" stroke="#333333" stroke-width="0.1" textLength="10.00" lengthAdjust="spacingAndGlyphs">0.6</text>
<text x="193.40" y="431.30" font-size="7" font-weight="normal" fill="#333333" stroke="#333333" stroke-width="0.1" textLength="10.00" lengthAdjust="spacingAndGlyphs">0.8</text>
<text x="193.40" y="408.20" font-size="7" font-weight="normal" fill="#333333" stroke="#333333" stroke-width="0.1" textLength="10.00" lengthAdjust="spacingAndGlyphs">1.0</text>
<text x="214.25" y="540.40" font-size="7.9" font-weight="normal" fill="#333333" stroke="#333333" stroke-width="0.1" textLength="3.90" lengthAdjust="spacingAndGlyphs">0</text>
<text x="237.45" y="540.40" font-size="7.9" font-weight="normal" fill="#333333" stroke="#333333" stroke-width="0.1" textLength="3.90" lengthAdjust="spacingAndGlyphs">5</text>
<text x="259.00" y="540.40" font-size="7.9" font-weight="normal" fill="#333333" stroke="#333333" stroke-width="0.1" textLength="7.20" lengthAdjust="spacingAndGlyphs">10</text>
<text x="282.20" y="540.40" font-size="7.9" font-weight="normal" fill="#333333" stroke="#333333" stroke-width="0.1" textLength="7.20" lengthAdjust="spacingAndGlyphs">15</text>
<text x="305.40" y="540.40" font-size="7.9" font-weight="normal" fill="#333333" stroke="#333333" stroke-width="0.1" textLength="7.20" lengthAdjust="spacingAndGlyphs">20</text>
<text x="328.60" y="540.40" font-size="7.9" font-weight="normal" fill="#333333" stroke="#333333" stroke-width="0.1" textLength="7.20" lengthAdjust="spacingAndGlyphs">25</text>
<text x="254.90" y="552.40" font-size="9.4" font-weight="normal" fill="#333333" stroke="#333333" stroke-width="0.1" textLength="38.90" lengthAdjust="spacingAndGlyphs">OS (months)</text>
<g transform="translate(189.00,463.10) rotate(-90)"><text x="-31.80" y="0.00" font-size="8.8" font-weight="normal" fill="#333333" stroke="#333333" stroke-width="0.1" textLength="63.60" lengthAdjust="spacingAndGlyphs">Proportion not dead</text></g>
<text x="310.40" y="412.70" font-size="6.4" font-weight="normal" fill="#68b54e" textLength="21.50" lengthAdjust="spacingAndGlyphs">p=0.005</text>
<path d="M220.84,407.43H225.48V414.02H230.12V416.33H234.76V423.37H239.40V430.65H244.04V433.19H276.52V438.96H290.44V446.47H313.64" fill="none" stroke="#a8082f" stroke-width="1.15" stroke-linejoin="miter" stroke-linecap="butt"/>
<path d="M248.68,431.94V434.44M253.32,431.94V434.44M257.96,431.94V434.44M262.60,431.94V434.44M267.24,431.94V434.44M271.88,431.94V434.44M281.16,437.71V440.21M285.80,437.71V440.21M304.36,445.22V447.72M309.00,445.22V447.72M313.64,445.22V447.72" fill="none" stroke="#a8082f" stroke-width="1.9"/>
<path d="M216.20,405.70H220.84V430.65H225.48V439.43H230.12V442.20H239.40V445.55H244.04V451.21H248.68V457.21H253.32V460.22H257.96V464.26H276.52V471.42H304.36" fill="none" stroke="#27457c" stroke-width="1.15" stroke-linejoin="miter" stroke-linecap="butt"/>
<path d="M262.60,463.01V465.51M267.24,463.01V465.51M271.88,463.01V465.51M281.16,470.17V472.67M285.80,470.17V472.67M295.08,470.17V472.67M299.72,470.17V472.67M304.36,470.17V472.67" fill="none" stroke="#27457c" stroke-width="1.9"/>
<rect x="219.2" y="499.2" width="7.80" height="5.70" fill="#a8082f" stroke="#920022" stroke-width="0.5"/>
<rect x="219.2" y="508.8" width="7.80" height="5.40" fill="#27457c" stroke="#1d3669" stroke-width="0.5"/>
<text x="230.40" y="503.80" font-size="6.2" font-weight="bold" fill="#111" stroke="#111" stroke-width="0.28" textLength="39.50" lengthAdjust="spacingAndGlyphs">Day &gt; 7/No CS</text>
<text x="230.40" y="512.80" font-size="6.2" font-weight="bold" fill="#111" stroke="#111" stroke-width="0.28" textLength="21.40" lengthAdjust="spacingAndGlyphs">Day 0-7</text>
<text x="273.90" y="494.60" font-size="6.0" font-weight="bold" fill="#111" stroke="#111" stroke-width="0.28" textLength="4.20" lengthAdjust="spacingAndGlyphs">N</text>
<text x="282.70" y="494.60" font-size="6.0" font-weight="bold" fill="#111" stroke="#111" stroke-width="0.28" textLength="17.40" lengthAdjust="spacingAndGlyphs">events</text>
<text x="304.70" y="494.60" font-size="6.0" font-weight="bold" fill="#111" stroke="#111" stroke-width="0.28" textLength="28.80" lengthAdjust="spacingAndGlyphs">mOS (mos)</text>
<text x="273.50" y="503.80" font-size="6.6" font-weight="normal" fill="#3a3a3a" textLength="6.10" lengthAdjust="spacingAndGlyphs">55</text>
<text x="288.80" y="503.80" font-size="6.6" font-weight="normal" fill="#3a3a3a" textLength="5.70" lengthAdjust="spacingAndGlyphs">14</text>
<text x="315.50" y="503.80" font-size="6.6" font-weight="normal" fill="#3a3a3a" textLength="7.70" lengthAdjust="spacingAndGlyphs">NR</text>
<text x="273.50" y="512.80" font-size="6.6" font-weight="normal" fill="#3a3a3a" textLength="6.10" lengthAdjust="spacingAndGlyphs">45</text>
<text x="288.80" y="512.80" font-size="6.6" font-weight="normal" fill="#3a3a3a" textLength="5.70" lengthAdjust="spacingAndGlyphs">22</text>
<text x="317.60" y="512.80" font-size="6.6" font-weight="normal" fill="#3a3a3a" textLength="2.80" lengthAdjust="spacingAndGlyphs">9</text>
<rect x="0.5" y="0.5" width="519" height="561" fill="none" stroke="#000" stroke-width="1.2"/>
</svg>
</body></html>
